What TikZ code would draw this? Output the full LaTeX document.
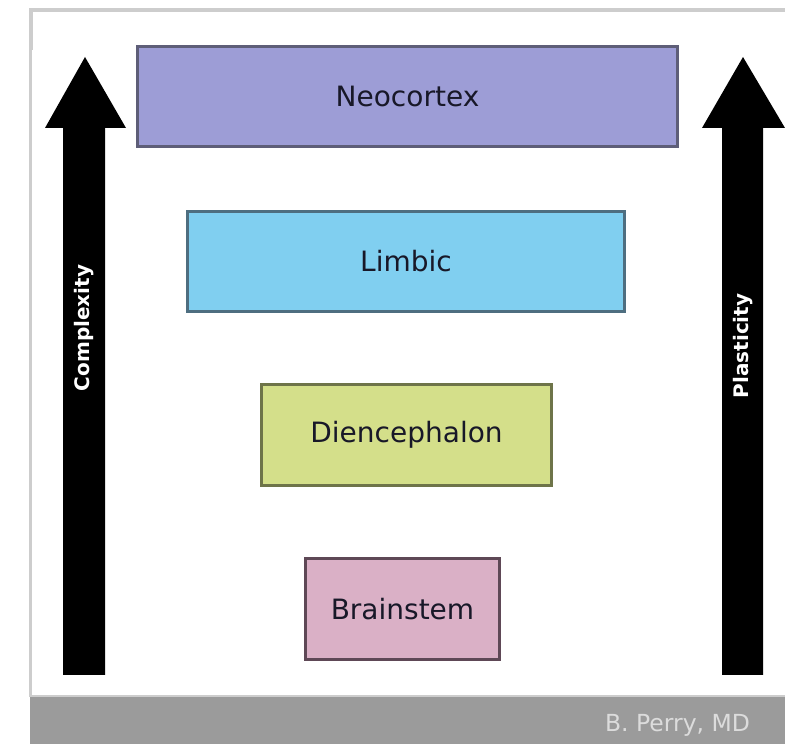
\documentclass[tikz,border=0pt]{standalone}
\usepackage{fontspec}
\setmainfont{DejaVu Sans}

\definecolor{neofill}{HTML}{9D9DD6}
\definecolor{neoline}{HTML}{5E5E78}
\definecolor{limfill}{HTML}{80CFF0}
\definecolor{limline}{HTML}{4E6E80}
\definecolor{diefill}{HTML}{D4DF8A}
\definecolor{dieline}{HTML}{6E7449}
\definecolor{brafill}{HTML}{DAB0C6}
\definecolor{braline}{HTML}{5E4856}
\definecolor{txtdark}{HTML}{181828}
\definecolor{framegray}{HTML}{CDCDCD}
\definecolor{bargray}{HTML}{9B9B9B}
\definecolor{barfont}{HTML}{DCDCDC}

\begin{document}
\begin{tikzpicture}[x=1pt,y=1pt]
            \tikzstyle{every node}+=[inner sep=0pt]
            \tikzstyle{layer}=[draw, line width=3pt, text=txtdark, font=\fontsize{28}{32}\selectfont]
            \tikzstyle{sidelabel}=[rotate=90, text=white, font=\fontsize{20}{24}\selectfont\bfseries]
            \useasboundingbox (0,0) rectangle (785,747);
            \fill [white] (0,0) rectangle (785,747);
            % frame and footer bar
            \draw [framegray, line width=4pt] (30.5,697) -- (30.5,737) -- (785,737);
            \draw [framegray, line width=3pt] (30.5,50) -- (30.5,697);
            \fill [bargray] (30,3) rectangle (785,50);
            \draw [framegray, line width=2pt] (30,51) -- (785,51);
            \node (credit) at (677.5,22) [text=barfont, font=\fontsize{23.5}{27}\selectfont] {B. Perry, MD};
            % block arrows
            \fill [black] (63,72) -- (63,619) -- (45,619) -- (85,690) -- (126,619) -- (105,619) -- (105,72) -- cycle;
            \fill [black] (722,72) -- (722,619) -- (702,619) -- (743,690) -- (785,619) -- (763,619) -- (763,72) -- cycle;
            \node (complexity) at (84,419) [sidelabel] {Complexity};
            \node (plasticity) at (743,401) [sidelabel] {Plasticity};
            % brain layers
            \node (neocortex) at (407.5,650.5) [layer, fill=neofill, draw=neoline, minimum width=540, minimum height=100] {Neocortex};
            \node (limbic) at (406,485.5) [layer, fill=limfill, draw=limline, minimum width=437, minimum height=100] {Limbic};
            \node (diencephalon) at (406.5,312) [layer, fill=diefill, draw=dieline, minimum width=290, minimum height=101] {Diencephalon};
            \node (brainstem) at (402.5,138) [layer, fill=brafill, draw=braline, minimum width=194, minimum height=101] {Brainstem};
        \end{tikzpicture}
\end{document}
